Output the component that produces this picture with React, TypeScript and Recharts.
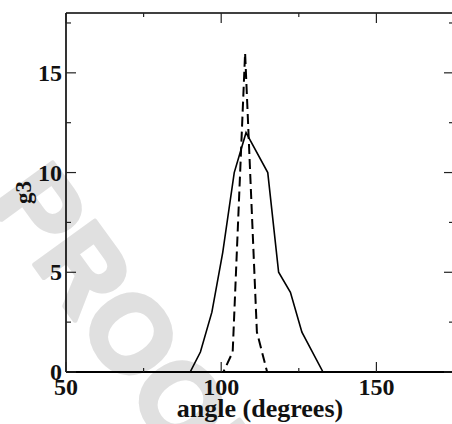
import { LineChart, Line, XAxis, YAxis, Label } from "recharts";

// values (angle in degrees, g3)
const solidAngle = [50, 90, 93.3, 97, 100.5, 104.2, 108, 115, 118.5, 122.3, 126, 132.8, 175];
const solidG3 = [0, 0, 1, 3, 6, 10, 12, 10, 5, 4, 2, 0, 0];
const dashedAngle = [50, 100.7, 103.7, 107.7, 111.5, 114.8, 175];
const dashedG3 = [0, 0, 1, 16, 2, 0, 0];

const xTicks = [50, 75, 100, 125, 150, 175];
const xLabelled = [50, 100, 150];
const yTicks = [0, 2.5, 5, 7.5, 10, 12.5, 15, 17.5];
const yLabelled = [0, 5, 10, 15];

const solid = solidAngle.map((angle, i) => ({ angle, g3: solidG3[i] }));
const dashed = dashedAngle.map((angle, i) => ({ angle, g3: dashedG3[i] }));

const FONT = '"Liberation Serif", "Times New Roman", serif';
const TICK = "#222";

// ticks point inward, labels only on the major ones
function BottomTick({ x, y, payload }: any) {
  const major = xLabelled.includes(payload.value);
  return (
    <g>
      <line x1={x} x2={x} y1={y} y2={y - (major ? 10 : 4)} stroke={TICK} strokeWidth={1.2} />
      {major && (
        <text x={x} y={y + 23} textAnchor="middle" fontFamily={FONT} fontWeight="bold" fontSize={24} fill="#111">
          {payload.value}
        </text>
      )}
    </g>
  );
}

function TopTick({ x, y, payload }: any) {
  const major = xLabelled.includes(payload.value);
  return <line x1={x} x2={x} y1={y} y2={y + (major ? 10 : 4)} stroke={TICK} strokeWidth={1.2} />;
}

function LeftTick({ x, y, payload }: any) {
  const major = yLabelled.includes(payload.value);
  return (
    <g>
      <line x1={x} x2={x + (major ? 10 : 5)} y1={y} y2={y} stroke={TICK} strokeWidth={1.2} />
      {major && (
        <text x={x - 4} y={y + 8} textAnchor="end" fontFamily={FONT} fontWeight="bold" fontSize={24} fill="#111">
          {payload.value}
        </text>
      )}
    </g>
  );
}

function RightTick({ x, y, payload }: any) {
  const major = yLabelled.includes(payload.value);
  return <line x1={x} x2={x - (major ? 10 : 5)} y1={y} y2={y} stroke={TICK} strokeWidth={1.2} />;
}

export default function App() {
  return (
    <div style={{ position: "relative", width: 452, height: 424, overflow: "hidden", background: "#fff" }}>
      <style>{`body{margin:0}`}</style>
      <svg width={452} height={424} style={{ position: "absolute", left: 0, top: 0 }}>
        <text
          x={101}
          y={356}
          transform="rotate(54 101 356)"
          textAnchor="middle"
          fontFamily='"Liberation Sans", Arial, sans-serif'
          fontWeight="bold"
          fontSize={108}
          fill="#e0e0e0"
          stroke="#e0e0e0"
          strokeWidth={5}
          strokeLinejoin="round"
        >
          PROOF
        </text>
      </svg>
      <div style={{ position: "absolute", left: 0, top: 0 }}>
        <LineChart width={455} height={424} margin={{ top: 12, right: 0, bottom: 0, left: 0 }}>
          <XAxis
            xAxisId="b"
            type="number"
            dataKey="angle"
            domain={[50, 175]}
            ticks={xTicks}
            interval={0}
            height={52}
            tickSize={0}
            tickMargin={0}
            tickLine={false}
            tick={<BottomTick />}
            axisLine={{ stroke: "#000", strokeWidth: 2 }}
            allowDataOverflow
          >
            <Label
              content={({ viewBox }: any) => (
                <text
                  x={viewBox.x + viewBox.width / 2}
                  y={viewBox.y + 45}
                  textAnchor="middle"
                  fontFamily={FONT}
                  fontWeight="bold"
                  fontSize={26}
                  fill="#111"
                >
                  angle (degrees)
                </text>
              )}
            />
          </XAxis>
          <XAxis
            xAxisId="t"
            orientation="top"
            type="number"
            dataKey="angle"
            domain={[50, 175]}
            ticks={xTicks}
            interval={0}
            height={1}
            tickSize={0}
            tickMargin={0}
            tickLine={false}
            tick={<TopTick />}
            axisLine={{ stroke: "#000", strokeWidth: 1.6 }}
            allowDataOverflow
          />
          <YAxis
            yAxisId="l"
            type="number"
            domain={[0, 18]}
            ticks={yTicks}
            interval={0}
            width={66}
            tickSize={0}
            tickMargin={0}
            tickLine={false}
            tick={<LeftTick />}
            axisLine={{ stroke: "#000", strokeWidth: 1.6 }}
            allowDataOverflow
          >
            <Label
              content={({ viewBox }: any) => {
                const cy = viewBox.y + viewBox.height / 2;
                return (
                  <text
                    x={31}
                    y={cy}
                    transform={`rotate(-90 31 ${cy})`}
                    textAnchor="middle"
                    fontFamily={FONT}
                    fontWeight="bold"
                    fontSize={23}
                    fill="#111"
                  >
                    g3
                  </text>
                );
              }}
            />
          </YAxis>
          <YAxis
            yAxisId="r"
            orientation="right"
            type="number"
            domain={[0, 18]}
            ticks={yTicks}
            interval={0}
            width={1}
            tickSize={0}
            tickMargin={0}
            tickLine={false}
            tick={<RightTick />}
            axisLine={{ stroke: "#000", strokeWidth: 1.6 }}
            allowDataOverflow
          />
          <Line
            xAxisId="b"
            yAxisId="l"
            data={solid}
            dataKey="g3"
            type="linear"
            stroke="#000"
            strokeWidth={1.6}
            dot={false}
            isAnimationActive={false}
          />
          <Line
            xAxisId="b"
            yAxisId="l"
            data={dashed}
            dataKey="g3"
            type="linear"
            stroke="#000"
            strokeWidth={2}
            strokeDasharray="10 5"
            dot={false}
            isAnimationActive={false}
          />
        </LineChart>
      </div>
    </div>
  );
}
